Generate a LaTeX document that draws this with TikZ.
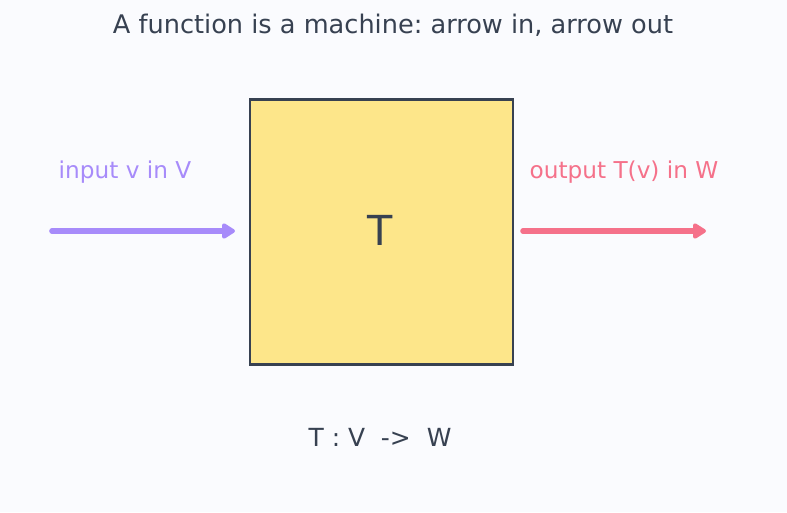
\documentclass[tikz,border=0pt]{standalone}
\usepackage{fontspec}
\setmainfont{DejaVu Sans}
\frenchspacing
\definecolor{pagebg}{RGB}{250,251,254}
\definecolor{inkgray}{RGB}{55,65,81}
\definecolor{boxyellow}{RGB}{253,230,138}
\definecolor{inviolet}{RGB}{167,139,250}
\definecolor{outrose}{RGB}{245,113,138}
\usepackage{tikz}
\usetikzlibrary{arrows.meta,positioning}

\begin{document}
\begin{tikzpicture}[x=0.75pt,y=-0.75pt,
    flowarrow/.style={line width=4.2pt,line cap=round,
      -{Triangle[round,length=11pt,width=13pt]}},
    sidelabel/.style={font=\fontsize{17.4}{20}\selectfont}]
        \fill[pagebg] (0,0) rectangle (787,512);
        \useasboundingbox (0,0) rectangle (787,512);
        \node[font=\fontsize{19.2}{23}\selectfont,text=inkgray] (title) at (393,25) {A function is a machine: arrow in, arrow out};
        \node[draw=inkgray,line width=1.9pt,fill=boxyellow,minimum width=197pt,minimum height=199pt,
          inner sep=0pt] (machine) at (381.5,232) {};
        \node[font=\fontsize{31}{35}\selectfont,text=inkgray] (name) at (380,230) {T};
        \coordinate (inStart) at (52,231);
        \coordinate (inEnd) at (235,231);
        \coordinate (outStart) at (523,231);
        \coordinate (outEnd) at (706,231);
        \draw[flowarrow,inviolet] (inStart) -- (inEnd);
        \draw[flowarrow,outrose] (outStart) -- (outEnd);
        \node[sidelabel,text=inviolet] (inlabel) at (125,172) {input v in V};
        \node[sidelabel,text=outrose] (outlabel) at (624,172) {output T(v) in W};
        \node[font=\fontsize{18.7}{22}\selectfont,text=inkgray] (signature) at (380,437) {T : V\ \ ->\ \ W};
      \end{tikzpicture}
\end{document}
